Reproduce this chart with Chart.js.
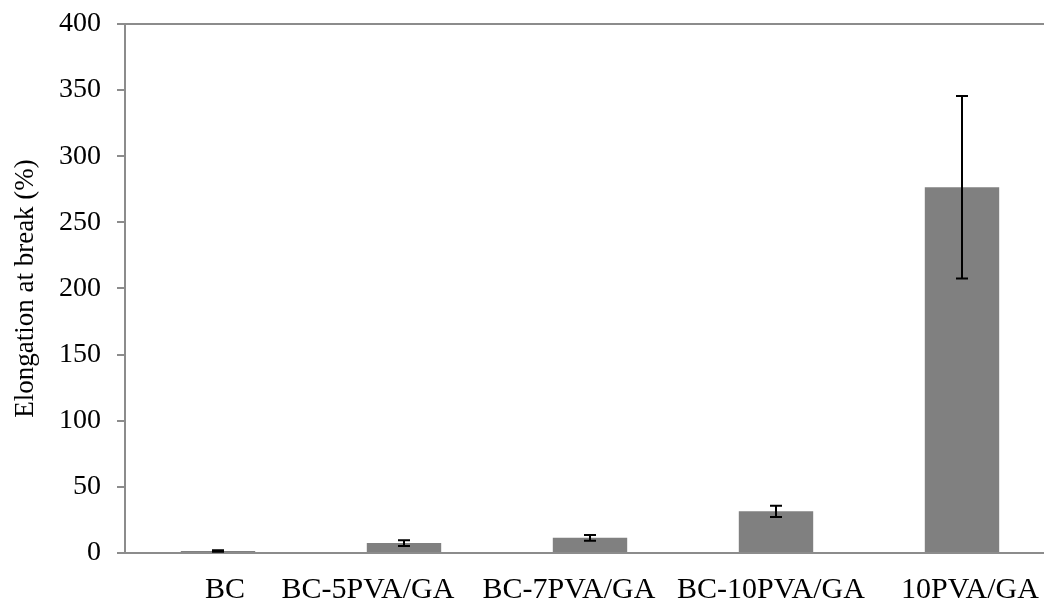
<!DOCTYPE html>
<html lang="en">
<head>
  <meta charset="UTF-8" />
  <title>Elongation at break</title>
  <script src="https://cdn.jsdelivr.net/npm/chart.js"></script>
  <style>
    html, body { margin: 0; padding: 0; background: #fff; overflow: hidden; }
    #wrap { width: 1060px; height: 599px; }
  </style>
</head>
<body>
  <div id="wrap"><canvas id="chart" width="1060" height="599"></canvas></div>

  <script>
    const categories = ['BC', 'BC-5PVA/GA', 'BC-7PVA/GA', 'BC-10PVA/GA', '10PVA/GA'];
    const elongation = [1.5, 7.5, 11.5, 31.5, 276.5];
    const elongationErr = [0.5, 2.2, 2.2, 4.2, 69];
    const yTicks = [0, 50, 100, 150, 200, 250, 300, 350, 400];

    // the original spreads the long category labels so they don't collide
    const labelShift = [7, -36, -21, -5, 8];

    const axisGray = '#8c8c8c';
    const serif = "'Liberation Serif', 'Times New Roman', serif";

    // draws the +/- error bars on top of the bars
    const errorBars = {
      id: 'errorBars',
      afterDatasetsDraw(chart) {
        const ctx = chart.ctx;
        const y = chart.scales.y;
        const meta = chart.getDatasetMeta(0);
        ctx.save();
        ctx.strokeStyle = '#000';
        ctx.lineWidth = 2;
        meta.data.forEach((bar, i) => {
          const top = y.getPixelForValue(elongation[i] + elongationErr[i]);
          const bot = y.getPixelForValue(elongation[i] - elongationErr[i]);
          ctx.beginPath();
          ctx.moveTo(bar.x, top); ctx.lineTo(bar.x, bot);
          ctx.moveTo(bar.x - 6, top); ctx.lineTo(bar.x + 6, top);
          ctx.moveTo(bar.x - 6, bot); ctx.lineTo(bar.x + 6, bot);
          ctx.stroke();
        });
        ctx.restore();
      }
    };

    // nudge the x labels sideways like the original layout
    const spreadLabels = {
      id: 'spreadLabels',
      beforeDraw(chart) {
        const items = chart.scales.x.getLabelItems();
        items.forEach((it, i) => {
          if (!it._shifted) {
            it.options.translation[0] += labelShift[i] || 0;
            it._shifted = true;
          }
        });
      }
    };

    new Chart(document.getElementById('chart'), {
      type: 'bar',
      data: {
        labels: categories,
        datasets: [{
          data: elongation,
          backgroundColor: '#808080',
          barPercentage: 0.4,
          categoryPercentage: 1.0
        }]
      },
      options: {
        responsive: false,
        animation: false,
        layout: { padding: { top: 18, right: 5, left: 0, bottom: 0 } },
        plugins: { legend: { display: false }, tooltip: { enabled: false } },
        scales: {
          x: {
            grid: { display: false },
            border: { display: true, color: axisGray, width: 2 },
            ticks: { color: '#000', font: { family: serif, size: 30 }, padding: 11, maxRotation: 0, autoSkip: false },
            afterFit: s => { s.height = 46; }
          },
          y: {
            min: 0,
            max: 400,
            afterBuildTicks: s => { s.ticks = yTicks.map(v => ({ value: v })); },
            grid: {
              color: c => c.tick && c.tick.value === 400 ? axisGray : 'rgba(0,0,0,0)',
              tickColor: axisGray,
              tickLength: 8,
              lineWidth: 2
            },
            border: { display: true, color: axisGray, width: 2 },
            ticks: { color: '#000', font: { family: serif, size: 28, lineHeight: 0.57 }, padding: 16 },
            title: {
              display: true,
              text: 'Elongation at break (%)',
              color: '#000',
              font: { family: serif, size: 27 },
              padding: { top: 10, bottom: 0 }
            },
            afterFit: s => { s.width = 125; }
          }
        }
      },
      plugins: [errorBars, spreadLabels]
    });
  </script>
</body>
</html>
